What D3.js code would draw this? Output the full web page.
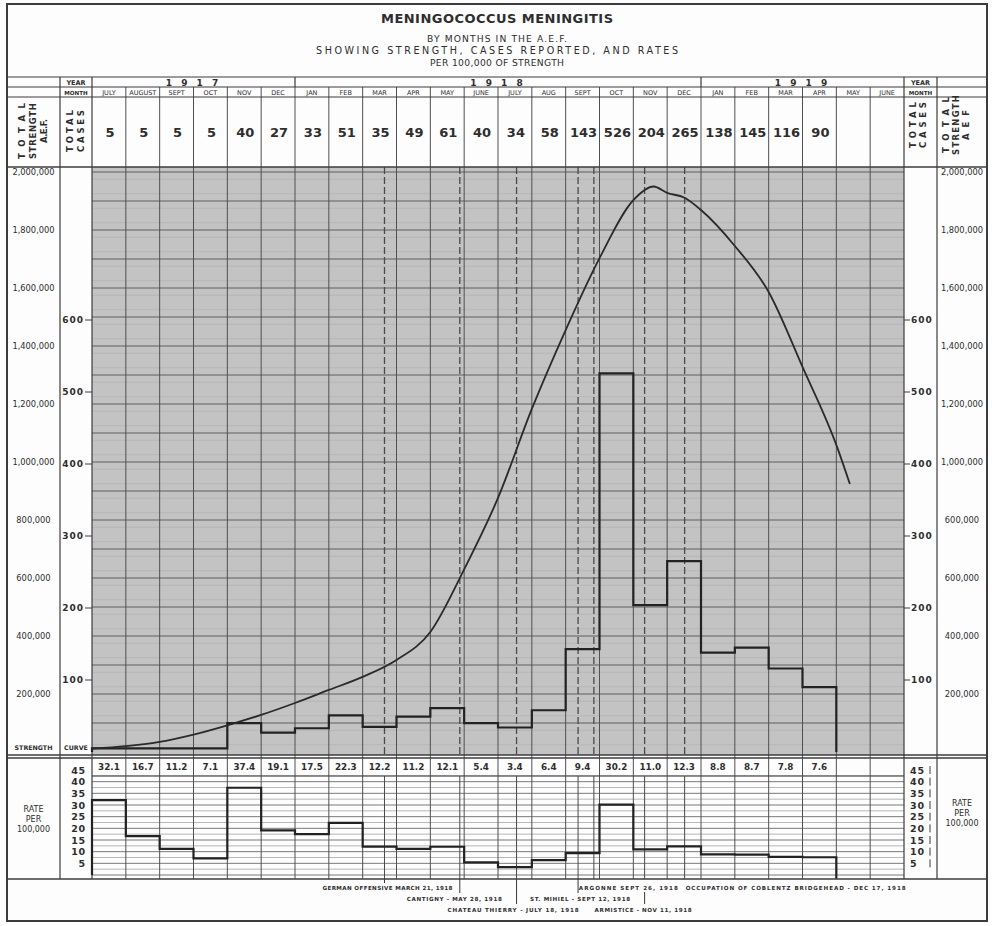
<!DOCTYPE html>
<html><head><meta charset="utf-8">
<script src="https://cdn.jsdelivr.net/npm/d3@7"></script>
<style>
body{margin:0;background:#fff;}
svg text{font-family:"DejaVu Sans","Liberation Sans",sans-serif;fill:#2e2e2e;}
</style></head><body>
<svg id="c" width="992" height="926"></svg>
<script>
// ---------------- DATA ----------------
const monthLabels = ["JULY","AUGUST","SEPT","OCT","NOV","DEC","JAN","FEB","MAR","APR","MAY","JUNE","JULY","AUG","SEPT","OCT","NOV","DEC","JAN","FEB","MAR","APR","MAY","JUNE"];
const yearLabels = ["1 9 1 7","1 9 1 8","1 9 1 9"];
const yearMonthCounts = [6,12,6];
const totalCases = [5,5,5,5,40,27,33,51,35,49,61,40,34,58,143,526,204,265,138,145,116,90,null,null];
const ratePer100k = [32.1,16.7,11.2,7.1,37.4,19.1,17.5,22.3,12.2,11.2,12.1,5.4,3.4,6.4,9.4,30.2,11.0,12.3,8.8,8.7,7.8,7.6,null,null];
// strength of the A.E.F. (month position from July 1917 = 0)
const strengthMonth  = [0,1,2,3,4,5,6,7,8,9,10,11,12,13,14,15,16,16.6,17,17.5,18,19,20,21,22,22.4];
const strengthValues = [12000,20000,35000,60000,92000,128000,169000,214000,259000,317000,414000,630000,876000,1183000,1455000,1703000,1903000,1950000,1928000,1912000,1869000,1745000,1586000,1328000,1059000,924000];
const strengthTicks = [200000,400000,600000,800000,1000000,1200000,1400000,1600000,1800000,2000000];
const strengthLabelsLeft  = ["200,000","400,000","600,000","800,000","1,000,000","1,200,000","1,400,000","1,600,000","1,800,000","2,000,000"];
const strengthLabelsRight = ["200,000","400,000","600,000","600,000","1,000,000","1,200,000","1,400,000","1,600,000","1,800,000","2,000,000"];
const caseTicks = [100,200,300,400,500,600];
const rateTicks = [5,10,15,20,25,30,35,40,45];
const eventLabels = ["GERMAN OFFENSIVE MARCH 21, 1918","CANTIGNY - MAY 28, 1918","CHATEAU THIERRY - JULY 18, 1918","ST. MIHIEL - SEPT 12, 1918","ARGONNE SEPT 26, 1918","ARMISTICE - NOV 11, 1918","OCCUPATION OF COBLENTZ BRIDGEHEAD - DEC 17, 1918"];
const eventDates = ["1918-03-21","1918-05-28","1918-07-18","1918-09-12","1918-09-26","1918-11-11","1918-12-17"];
const titleLines = ["MENINGOCOCCUS MENINGITIS","BY MONTHS IN THE A.E.F.","SHOWING STRENGTH, CASES REPORTED, AND RATES","PER 100,000 OF STRENGTH"];

// ---------------- LAYOUT ----------------
const eventRow = [0,1,2,1,0,2,0];
const eventDx = [-62,-53,-69,-48,-15,-50,1];
const eventTextLen = [130,95,131,100,99,97,220];
const eventLeaderSegs = [[[879,883]],[[879,893]],[[879,904]],[[879,893]],[],[[892,904]],[]];
const titleY = [23,42,54,66], titleSize=[13,9.2,9.6,9.2], titleLen=[232,140,362,134], titleWeight=["bold","normal","normal","normal"];

const FL=7, FR=987, FT=4, FB=921;
const C1=60, C2=92, C3=904, C4=937;
const YEAR_T=77, MONTH_T=87, CASES_T=97, MAIN_T=167, MAIN_B=755, RATE_T=758, VAL_B=776, RATE_B=879;
const ink="#3c3c3c";

const svg=d3.select("#c");
const x=d3.scaleLinear().domain([0,24]).range([C2,C3]);
const yS=d3.scaleLinear().domain([0,2000000]).range([752,172]);
const yC=d3.scaleLinear().domain([0,100]).range([752,680]);
const yR=d3.scaleLinear().domain([0,45]).range([875,770]);
const mw=(C3-C2)/24;

function monthPos(s){const [yy,mm,dd]=s.split("-").map(Number);const dim=new Date(yy,mm,0).getDate();return (yy-1917)*12+(mm-1)-6+(dd-1)/dim;}
const eventPos=eventDates.map(monthPos);

// backgrounds
svg.append("rect").attr("x",0).attr("y",0).attr("width",992).attr("height",926).attr("fill","#fdfdfd");
svg.append("rect").attr("x",C2).attr("y",MAIN_T).attr("width",C3-C2).attr("height",MAIN_B-MAIN_T).attr("fill","#c3c3c3");

// texture minor lines in grey area
const minor=d3.range(25000,2000001,50000);
svg.append("g").selectAll("line").data(minor).join("line")
 .attr("x1",C2).attr("x2",C3).attr("y1",d=>yS(d)).attr("y2",d=>yS(d))
 .attr("stroke","#b2b2b2").attr("stroke-width",0.8);
// major horizontal grid (every 100,000)
const major=d3.range(100000,2000001,100000);
svg.append("g").selectAll("line").data(major).join("line")
 .attr("x1",C2).attr("x2",C3).attr("y1",d=>yS(d)).attr("y2",d=>yS(d))
 .attr("stroke","#5e5e5e").attr("stroke-width",1);

// rate panel horizontal lines
const rateLines=d3.range(0,43,2.5);
svg.append("g").selectAll("line").data(rateLines).join("line")
 .attr("x1",C2).attr("x2",C3).attr("y1",d=>yR(d)).attr("y2",d=>yR(d))
 .attr("stroke",d=>d%5===0?"#6a6a6a":"#9a9a9a").attr("stroke-width",d=>d%5===0?0.9:0.7);

// event dashed lines in main panel, solid in rate panel + leaders
svg.append("g").selectAll("line").data(eventPos).join("line")
 .attr("x1",d=>x(d)).attr("x2",d=>x(d)).attr("y1",MAIN_T).attr("y2",MAIN_B)
 .attr("stroke","#4a4a4a").attr("stroke-width",1.3).attr("stroke-dasharray","7,3");
svg.append("g").selectAll("line").data(eventPos).join("line")
 .attr("x1",d=>x(d)).attr("x2",d=>x(d)).attr("y1",VAL_B).attr("y2",RATE_B)
 .attr("stroke","#4a4a4a").attr("stroke-width",1);
const leaderData=[];
eventPos.forEach((p,i)=>eventLeaderSegs[i].forEach(s=>leaderData.push({p:p,y1:s[0],y2:s[1]})));
svg.append("g").selectAll("line").data(leaderData).join("line")
 .attr("x1",d=>x(d.p)).attr("x2",d=>x(d.p)).attr("y1",d=>d.y1).attr("y2",d=>d.y2)
 .attr("stroke","#3a3a3a").attr("stroke-width",1);

// month vertical lines
svg.append("g").selectAll("line").data(d3.range(1,24)).join("line")
 .attr("x1",d=>x(d)).attr("x2",d=>x(d)).attr("y1",MONTH_T).attr("y2",RATE_B)
 .attr("stroke","#505050").attr("stroke-width",1);

// frame & structural lines
const hl=(y,x1,x2,w)=>svg.append("line").attr("x1",x1).attr("x2",x2).attr("y1",y).attr("y2",y).attr("stroke",ink).attr("stroke-width",w||1.2);
const vl=(xx,y1,y2,w)=>svg.append("line").attr("x1",xx).attr("x2",xx).attr("y1",y1).attr("y2",y2).attr("stroke",ink).attr("stroke-width",w||1.2);
[YEAR_T,MONTH_T,CASES_T].forEach(y=>hl(y,FL,FR,1.2));
hl(MAIN_T,FL,FR,1.6); hl(MAIN_B,FL,FR,1.6); hl(RATE_T,FL,FR,1.4);
hl(VAL_B,C2,C3,1); hl(RATE_B,FL,FR,1.4);
[C1,C2,C3,C4].forEach(xx=>vl(xx,YEAR_T,RATE_B,1.2));
let acc=0; const yearBounds=[];
yearMonthCounts.forEach(n=>{yearBounds.push([acc,acc+n]);acc+=n;});
yearBounds.slice(1).forEach(b=>vl(x(b[0]),YEAR_T,MONTH_T,1.2));
svg.append("rect").attr("x",FL).attr("y",FT).attr("width",FR-FL).attr("height",FB-FT)
 .attr("fill","none").attr("stroke",ink).attr("stroke-width",2);

// ---------------- TITLE ----------------
svg.append("g").selectAll("text").data(titleLines).join("text")
 .attr("x",(d,i)=>(FL+FR)/2-titleLen[i]/2).attr("y",(d,i)=>titleY[i]).attr("text-anchor","start")
 .attr("font-size",(d,i)=>titleSize[i]).attr("font-weight",(d,i)=>titleWeight[i])
 .attr("textLength",(d,i)=>titleLen[i]).attr("lengthAdjust","spacing")
 .text(d=>d);

// ---------------- HEADER ----------------
const smallTxt=(t,xx,y,fs,anchor,fw)=>svg.append("text").attr("x",xx).attr("y",y).attr("font-size",fs).attr("text-anchor",anchor||"middle").attr("font-weight",fw||"normal").text(t);
smallTxt("YEAR",(C1+C2)/2,85,6.5,"middle","bold");
smallTxt("MONTH",(C1+C2)/2,95,5.6,"middle","bold");
smallTxt("YEAR",(C3+C4)/2,85,6.5,"middle","bold");
smallTxt("MONTH",(C3+C4)/2,95,5.6,"middle","bold");
svg.append("g").selectAll("text").data(yearLabels).join("text")
 .attr("x",(d,i)=>(x(yearBounds[i][0])+x(yearBounds[i][1]))/2).attr("y",86)
 .attr("text-anchor","middle").attr("font-size",9).attr("font-weight","bold").attr("letter-spacing",3).text(d=>d);
svg.append("g").selectAll("text").data(monthLabels).join("text")
 .attr("x",(d,i)=>x(i)+mw/2).attr("y",95).attr("text-anchor","middle")
 .attr("font-size",6.5).text(d=>d);
svg.append("g").selectAll("text").data(totalCases).join("text")
 .attr("x",(d,i)=>x(i)+mw/2+1).attr("y",137).attr("text-anchor","middle")
 .attr("font-size",13).attr("font-weight","bold").text(d=>d==null?"":d);

function rotLines(lines,xs,yc,lens){
 lines.forEach((t,i)=>{
  svg.append("text").attr("transform",`translate(${xs[i]},${yc}) rotate(-90)`)
   .attr("text-anchor","middle").attr("dominant-baseline","central")
   .attr("font-size",8.5).attr("font-weight","bold")
   .attr("textLength",lens[i]).attr("lengthAdjust","spacing").text(t);
 });
}
rotLines(["TOTAL","STRENGTH","A.E.F."],[22,33,44],131,[56,56,24]);
rotLines(["TOTAL","CASES"],[70,81],131,[42,42]);
rotLines(["TOTAL","CASES"],[913,923],125,[46,46]);
rotLines(["TOTAL","STRENGTH","A E F"],[946,956,966],125,[56,60,30]);

// ---------------- MAIN PANEL AXES ----------------
svg.append("g").selectAll("text").data(strengthTicks).join("text")
 .attr("x",(C1+FL)/2).attr("y",d=>yS(d)).attr("dominant-baseline","central").attr("text-anchor","middle")
 .attr("font-size",8.3).text((d,i)=>strengthLabelsLeft[i]);
svg.append("g").selectAll("text").data(strengthTicks).join("text")
 .attr("x",(C4+FR)/2).attr("y",d=>yS(d)).attr("dominant-baseline","central").attr("text-anchor","middle")
 .attr("font-size",8.3).text((d,i)=>strengthLabelsRight[i]);
svg.append("g").selectAll("text").data(caseTicks).join("text")
 .attr("x",84).attr("y",d=>yC(d)).attr("dominant-baseline","central").attr("text-anchor","end")
 .attr("font-size",9).attr("font-weight","bold").attr("letter-spacing",1).text(d=>d);
svg.append("g").selectAll("line").data(caseTicks).join("line")
 .attr("x1",85).attr("x2",C2).attr("y1",d=>yC(d)).attr("y2",d=>yC(d)).attr("stroke",ink);
svg.append("g").selectAll("text").data(caseTicks).join("text")
 .attr("x",911).attr("y",d=>yC(d)).attr("dominant-baseline","central").attr("text-anchor","start")
 .attr("font-size",9).attr("font-weight","bold").attr("letter-spacing",1).text(d=>d);
svg.append("g").selectAll("line").data(caseTicks).join("line")
 .attr("x1",C3).attr("x2",910).attr("y1",d=>yC(d)).attr("y2",d=>yC(d)).attr("stroke",ink);
smallTxt("STRENGTH",(FL+C1)/2,750,6.3,"middle","bold");
smallTxt("CURVE",(C1+C2)/2,750,6.3,"middle","bold");

// cases step outline
const caseSteps=[{i:0,v:0}];
totalCases.forEach((v,i)=>{if(v!=null)caseSteps.push({i:i,v:v});});
const lastC=caseSteps[caseSteps.length-1];
caseSteps.push({i:lastC.i+1,v:lastC.v},{i:lastC.i+1,v:0});
svg.append("path").datum(caseSteps)
 .attr("d",d3.line().x(d=>x(d.i)).y(d=>yC(d.v)).curve(d3.curveStepAfter))
 .attr("fill","none").attr("stroke","#222").attr("stroke-width",2.2);

// strength curve
const sPts=strengthMonth.map((m,i)=>({m:m,v:strengthValues[i]}));
svg.append("path").datum(sPts)
 .attr("d",d3.line().x(d=>x(d.m)).y(d=>yS(d.v)).curve(d3.curveMonotoneX))
 .attr("fill","none").attr("stroke","#2a2a2a").attr("stroke-width",1.8);

// ---------------- RATE PANEL ----------------
const fmt=d3.format(".1f");
svg.append("g").selectAll("text").data(ratePer100k).join("text")
 .attr("x",(d,i)=>x(i)+mw/2).attr("y",770).attr("text-anchor","middle")
 .attr("font-size",8.8).attr("font-weight","bold").text(d=>d==null?"":fmt(d));
svg.append("g").selectAll("text").data(rateTicks).join("text")
 .attr("x",86).attr("y",d=>yR(d)).attr("dominant-baseline","central").attr("text-anchor","end")
 .attr("font-size",9.5).attr("font-weight","bold").attr("letter-spacing",0.8).text(d=>d);
svg.append("g").selectAll("text").data(rateTicks).join("text")
 .attr("x",910).attr("y",d=>yR(d)).attr("dominant-baseline","central").attr("text-anchor","start")
 .attr("font-size",9.5).attr("font-weight","bold").attr("letter-spacing",0.8).text(d=>d);
svg.append("g").selectAll("line").data(rateTicks).join("line")
 .attr("x1",930).attr("x2",930).attr("y1",d=>yR(d)-4).attr("y2",d=>yR(d)+4).attr("stroke",ink);
["RATE","PER","100,000"].forEach((t,i)=>{
 smallTxt(t,(FL+C1)/2,812+i*10,8,"middle");
 smallTxt(t,(C4+FR)/2,806+i*10,8,"middle");
});
const rateSteps=[{i:0,v:0}];
ratePer100k.forEach((v,i)=>{if(v!=null)rateSteps.push({i:i,v:v});});
const lastR=rateSteps[rateSteps.length-1];
rateSteps.push({i:lastR.i+1,v:lastR.v},{i:lastR.i+1,v:-1.5});
svg.append("path").datum(rateSteps)
 .attr("d",d3.line().x(d=>x(d.i)).y(d=>yR(d.v)).curve(d3.curveStepAfter))
 .attr("fill","none").attr("stroke","#222").attr("stroke-width",2.2);

// ---------------- EVENT ANNOTATIONS ----------------
const rowY=[890,901,912];
svg.append("g").selectAll("text").data(eventLabels).join("text")
 .attr("x",(d,i)=>x(eventPos[i])+eventDx[i]).attr("y",(d,i)=>rowY[eventRow[i]])
 .attr("text-anchor","start").attr("font-size",5.6).attr("font-weight","bold")
 .attr("textLength",(d,i)=>eventTextLen[i]).attr("lengthAdjust","spacing").text(d=>d);
</script>
</body></html>
